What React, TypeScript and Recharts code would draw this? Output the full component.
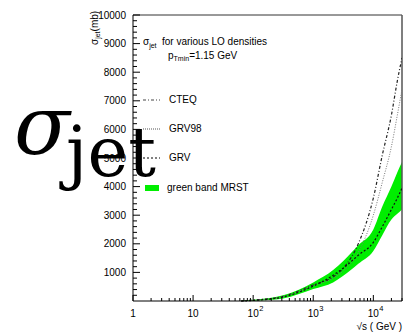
import { ComposedChart, Line, Area, XAxis, YAxis, ReferenceLine } from "recharts";

// sqrt(s) in GeV
const sqrtS = [63, 100, 316, 1000, 2140, 3160, 5620, 10000, 14100, 20000, 25100, 30000];
const cteq = [0, 30, 160, 560, 840, 1150, 2000, 3600, 5100, 6500, 7700, 8500];
const grv98 = [0, 25, 150, 530, 800, 1050, 1700, 3000, 4150, 5400, 6500, 7400];
const grv = [0, 20, 140, 520, 900, 1150, 1600, 2050, 2600, 3200, 3600, 3950];
const mrstLow = [0, 10, 90, 420, 650, 880, 1300, 1750, 2300, 2850, 3050, 3200];
const mrstHigh = [15, 45, 200, 650, 1080, 1400, 1950, 2500, 3300, 4000, 4500, 4860];

const xMajor = [1, 10, 100, 1000, 10000];
const xLabels = ["1", "10", "10|2", "10|3", "10|4"];
const yMajor = [1000, 2000, 3000, 4000, 5000, 6000, 7000, 8000, 9000, 10000];

const data = sqrtS.map((s, i) => ({
  s,
  cteq: cteq[i],
  grv98: grv98[i],
  grv: grv[i],
  mrst: [mrstLow[i], mrstHigh[i]],
}));

const xTicks: number[] = [];
xMajor.forEach((d) => {
  for (let k = 1; k <= 9; k++) if (d * k <= 30000) xTicks.push(d * k);
});
const yTicks: number[] = [];
for (let v = 200; v <= 10000; v += 200) yTicks.push(v);

const sans = "'Liberation Sans', Arial, Helvetica, sans-serif";

const XTick = (props: any) => {
  const { x, y, payload } = props;
  const idx = xMajor.indexOf(payload.value);
  const major = idx >= 0;
  let label = null;
  if (major) {
    const [base, sup] = xLabels[idx].split("|");
    label = (
      <g fontFamily={sans} fill="#000">
        <text x={x} y={y + 16} fontSize={10} textAnchor="middle">
          {base}
        </text>
        {sup && (
          <text x={x + 6} y={y + 10} fontSize={7.5}>
            {sup}
          </text>
        )}
      </g>
    );
  }
  return (
    <g>
      <line x1={x} x2={x} y1={y} y2={y - (major ? 6 : 3)} stroke="#000" />
      {label}
    </g>
  );
};

const YTick = (props: any) => {
  const { x, y, payload } = props;
  const major = yMajor.includes(payload.value);
  return (
    <g>
      <line x1={x} x2={x + (major ? 7 : 4)} y1={y} y2={y} stroke="#000" />
      {major && (
        <text x={x - 7} y={y + 3.5} fontSize={10} fontFamily={sans} textAnchor="end" fill="#000">
          {payload.value}
        </text>
      )}
    </g>
  );
};

export default function App() {
  return (
    <div style={{ position: "absolute", left: 0, top: 0, width: 405, height: 334, background: "#fff" }}>
      <ComposedChart
        width={405}
        height={334}
        data={data}
        margin={{ top: 15, right: 3, bottom: 3, left: 93 }}
      >
        <XAxis
          dataKey="s"
          type="number"
          scale="log"
          domain={[1, 30000]}
          allowDataOverflow
          ticks={xTicks}
          interval={0}
          tickSize={0}
          tickMargin={0}
          tick={<XTick />}
          height={30}
          axisLine={{ stroke: "#000" }}
        />
        <YAxis
          type="number"
          domain={[0, 10000]}
          ticks={yTicks}
          interval={0}
          tickSize={0}
          tickMargin={0}
          tick={<YTick />}
          width={40}
          axisLine={{ stroke: "#000" }}
        />
        <ReferenceLine y={10000} stroke="#333" />
        <ReferenceLine x={30000} stroke="#555" strokeWidth={1.5} />
        <Area
          dataKey="mrst"
          type="monotone"
          fill="#00ee00"
          fillOpacity={1}
          stroke="none"
          isAnimationActive={false}
        />
        <Line dataKey="cteq" type="monotone" stroke="#222" strokeWidth={1.2} strokeDasharray="3 2 1 2" dot={false} isAnimationActive={false} />
        <Line dataKey="grv98" type="monotone" stroke="#777" strokeWidth={1} strokeDasharray="1 1.5" dot={false} isAnimationActive={false} />
        <Line dataKey="grv" type="monotone" stroke="#111" strokeWidth={1.2} strokeDasharray="2 2" dot={false} isAnimationActive={false} />
      </ComposedChart>
      <svg width={405} height={334} style={{ position: "absolute", left: 0, top: 0, pointerEvents: "none" }}>
        <g fontFamily={sans} fill="#000">
          <text transform="translate(98,45) rotate(-90)" fontSize={10}>
            σ<tspan fontSize={7} dy={2}>jet</tspan>
            <tspan fontSize={10} dy={-2}>(mb)</tspan>
          </text>
          <text x={143} y={45} fontSize={10}>
            σ<tspan fontSize={7} dy={3}>jet</tspan>
          </text>
          <text x={162} y={45} fontSize={10}>for various LO densities</text>
          <text x={168} y={59} fontSize={10}>
            p<tspan fontSize={7} dy={2}>Tmin</tspan>
            <tspan fontSize={10} dy={-2}>=1.15 GeV</tspan>
          </text>
          <line x1={143} x2={160} y1={100} y2={100} stroke="#444" strokeDasharray="3 2 1 2" />
          <text x={169} y={103} fontSize={10}>CTEQ</text>
          <line x1={143} x2={160} y1={129} y2={129} stroke="#555" strokeDasharray="1 1" />
          <text x={169} y={132} fontSize={10}>GRV98</text>
          <line x1={143} x2={160} y1={158} y2={158} stroke="#000" strokeDasharray="2 2" />
          <text x={169} y={161} fontSize={10}>GRV</text>
          <rect x={145} y={185} width={14} height={6} fill="#00ee00" />
          <text x={167} y={191} fontSize={10}>green band MRST</text>
          <text x={402} y={330} fontSize={10} textAnchor="end">√s ( GeV )</text>
        </g>
        <g fontFamily="'DejaVu Serif', serif" fill="#000">
          <text x={14} y={154} fontSize={82} fontStyle="italic">σ</text>
          <text x={66} y={176} fontSize={69}>jet</text>
        </g>
      </svg>
    </div>
  );
}
